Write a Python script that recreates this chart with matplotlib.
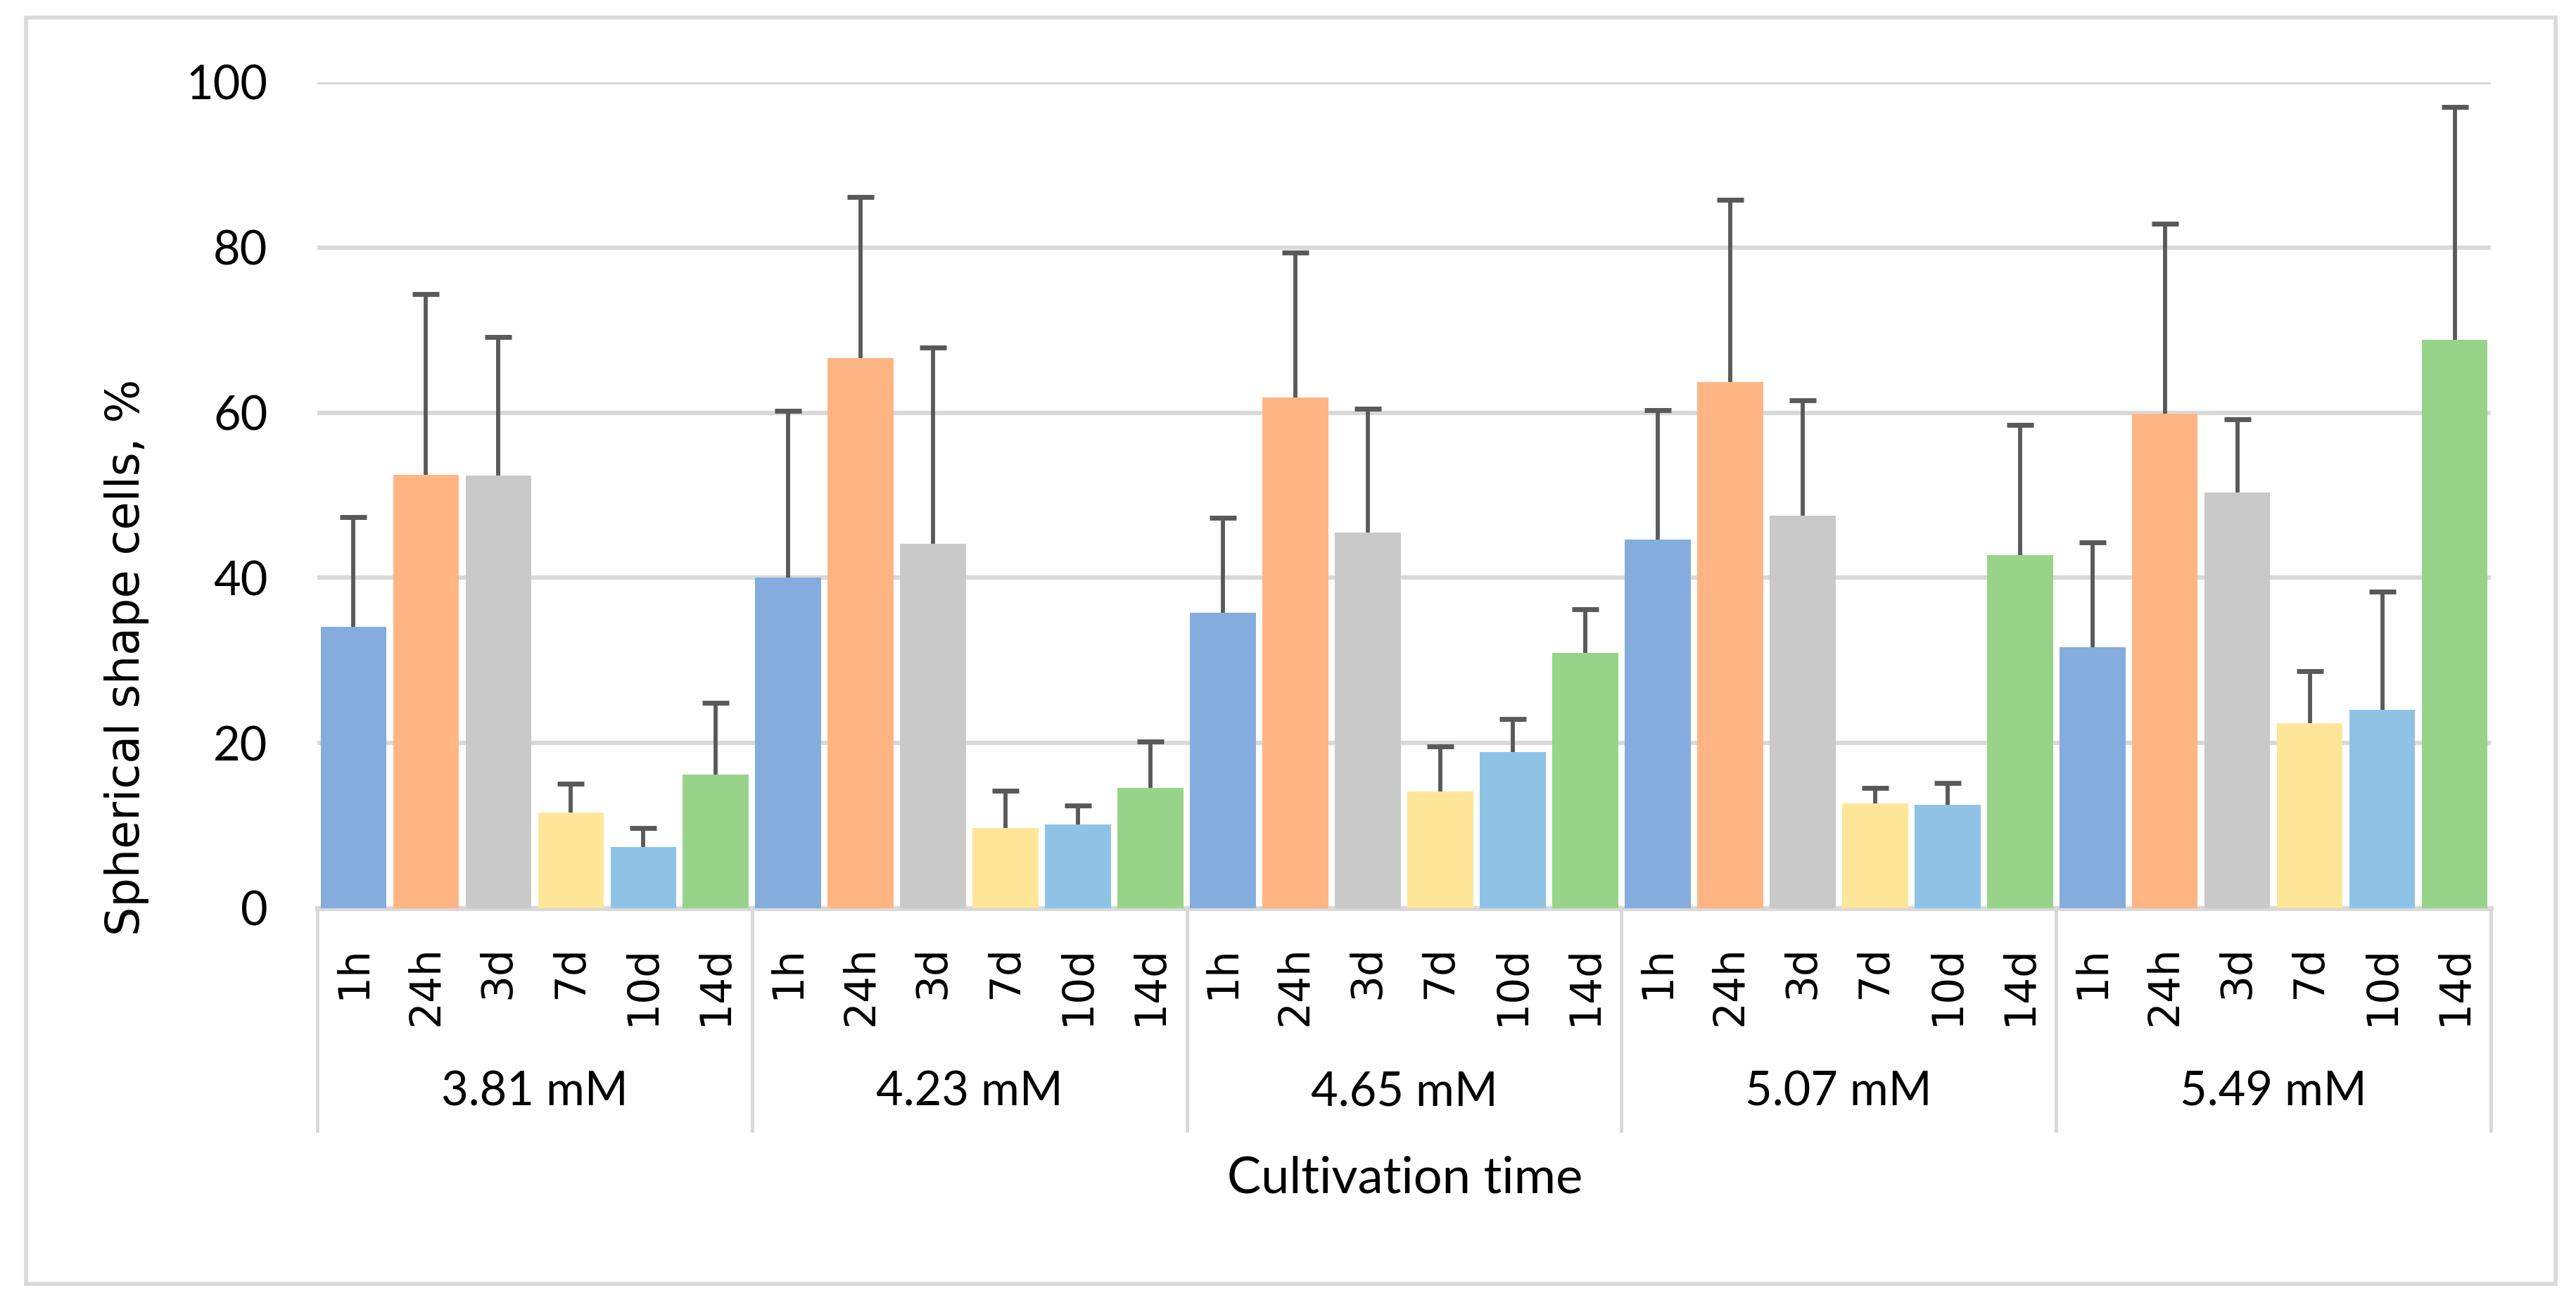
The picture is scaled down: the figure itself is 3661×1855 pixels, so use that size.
import matplotlib.pyplot as plt
import matplotlib.transforms as mtransforms
from matplotlib.patches import Rectangle
import numpy as np

# Data
concentrations = ["3.81 mM", "4.23 mM", "4.65 mM", "5.07 mM", "5.49 mM"]
times = ["1h", "24h", "3d", "7d", "10d", "14d"]

# mean values, one list per concentration (1h, 24h, 3d, 7d, 10d, 14d)
mean_381 = [34.1, 52.5, 52.4, 11.6, 7.4, 16.2]
mean_423 = [40.0, 66.6, 44.1, 9.7, 10.1, 14.6]
mean_465 = [35.8, 61.8, 45.5, 14.1, 18.9, 30.9]
mean_507 = [44.6, 63.7, 47.5, 12.7, 12.5, 42.8]
mean_549 = [31.6, 59.9, 50.3, 22.4, 24.0, 68.8]

# upper error (bar top to whisker top)
err_381 = [13.3, 21.9, 16.8, 3.5, 2.3, 8.7]
err_423 = [20.2, 19.5, 23.8, 4.5, 2.3, 5.6]
err_465 = [11.5, 17.6, 15.0, 5.5, 4.0, 5.3]
err_507 = [15.7, 22.1, 14.0, 1.9, 2.7, 15.7]
err_549 = [12.7, 23.0, 8.9, 6.3, 14.3, 28.2]

colors = ["#84ADDD", "#FFB583", "#C9C9C9", "#FFE699", "#8EC3E6", "#98D38A"]
grey = "#D9D9D9"

means = [mean_381, mean_423, mean_465, mean_507, mean_549]
errs = [err_381, err_423, err_465, err_507, err_549]

W, H = 3662, 1855
fig = plt.figure(figsize=(W / 100, H / 100), dpi=100)

# plot area in pixels
left, right, top, bottom = 451, 3540, 117, 1291
ax = fig.add_axes([left / W, 1 - bottom / H, (right - left) / W, (bottom - top) / H])

n_t = len(times)
x = np.arange(len(concentrations) * n_t) + 0.5
heights = np.concatenate(means)
uppers = np.concatenate(errs)
bar_colors = [colors[i % n_t] for i in range(len(x))]

ax.bar(x, heights, width=0.91, color=bar_colors, zorder=2)
eb = ax.errorbar(x, heights, yerr=[np.zeros(len(x)), uppers], fmt="none",
                 ecolor="#595959", elinewidth=4.2, capsize=14, capthick=5, zorder=3)
# only the upper cap is drawn in the original
eb[1][0].set_visible(False)

ax.set_xlim(0, len(x))
ax.set_ylim(0, 100)
ax.set_yticks(np.arange(0, 101, 20))
ax.yaxis.grid(True, color=grey, linewidth=4.5, zorder=0)
ax.set_axisbelow(True)
for s in ["top", "right", "left"]:
    ax.spines[s].set_visible(False)
ax.spines["bottom"].set_color(grey)
ax.spines["bottom"].set_linewidth(5)
ax.spines["bottom"].set_zorder(1)

ax.tick_params(axis="y", length=0, pad=51, labelsize=48)
for lab in ax.get_yticklabels():
    lab.set_fontfamily("Lato")

# time labels under each bar
ax.set_xticks(x)
ax.set_xticklabels(times * len(concentrations), rotation=90, va="top", ha="center",
                   fontfamily="DejaVu Sans", fontsize=43)
ax.tick_params(axis="x", length=0, pad=38)

# concentration labels and separators
trans = mtransforms.blended_transform_factory(ax.transData, ax.transAxes)
sep_bottom = (bottom - 1607) / (bottom - top)
lab_y = (bottom - 1553) / (bottom - top)
for g, name in enumerate(concentrations):
    ax.text(g * n_t + n_t / 2, lab_y, name, transform=trans, ha="center", va="center",
            fontsize=48, fontfamily="Lato")
for g in range(len(concentrations) + 1):
    ax.plot([g * n_t, g * n_t], [0, sep_bottom], transform=trans, color=grey,
            linewidth=3.5, clip_on=False, zorder=1)

fig.text(1997 / W, 1 - 1675 / H, "Cultivation time", ha="center", va="center",
         fontsize=52, fontfamily="Lato")
fig.text(180 / W, 1 - 934 / H, "Spherical shape cells, %", rotation=90, ha="center",
         va="center", fontsize=47, fontfamily="DejaVu Sans")

# outer chart border
fig.patches.append(Rectangle((37 / W, 1 - 1825 / H), (3632 - 37) / W, (1825 - 25) / H,
                             transform=fig.transFigure, fill=False, edgecolor=grey,
                             linewidth=4))

fig.savefig("out.png", dpi=100)
